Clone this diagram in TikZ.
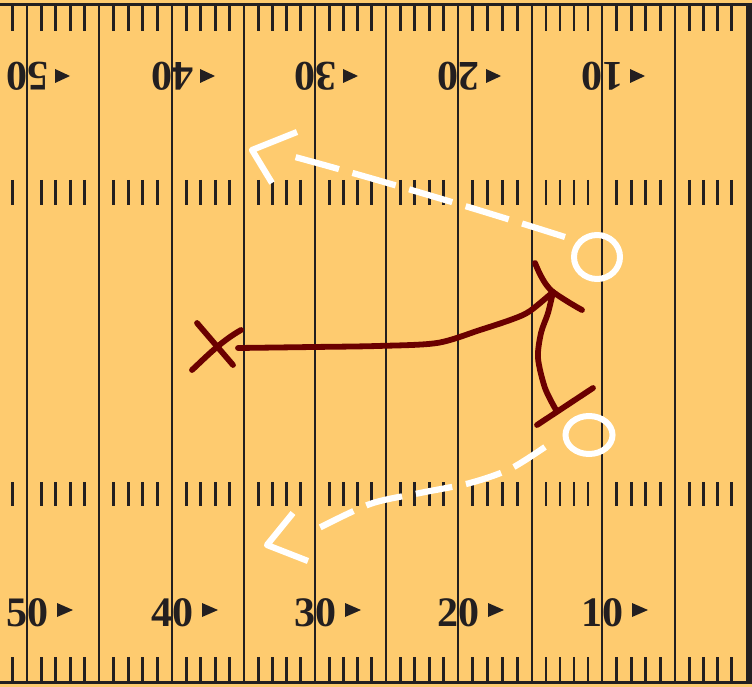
\documentclass[tikz,border=0pt]{standalone}
\usepackage{fontspec}
\setmainfont{Liberation Serif}
\usetikzlibrary{shapes.geometric}
\definecolor{fieldc}{HTML}{FECB6F}
\definecolor{inkc}{HTML}{231F20}
\definecolor{offc}{HTML}{6B0000}
\begin{document}
\begin{tikzpicture}[x=1pt,y=-1pt,
  yardline/.style={draw=inkc,line width=2.8pt},
  hashmark/.style={draw=inkc,line width=2.7pt},
  border/.style={draw=inkc,line width=3pt},
  numlabel/.style={font=\bfseries\fontsize{42}{42}\selectfont,text=inkc,inner sep=0pt,outer sep=0pt},
  dirarrow/.style={fill=inkc},
  defender/.style={draw=white,line width=6pt,ellipse,inner sep=0pt},
  offroute/.style={draw=offc,line width=5.8pt,line cap=round,line join=round},
  defroute/.style={draw=white,line width=6.2pt,line cap=butt},
  defhead/.style={draw=white,line width=6.2pt,line join=round,line cap=butt}
]
\fill[fieldc] (0,0) rectangle (752,687);
\useasboundingbox (0,0) rectangle (752,687);
\clip (0,0) rectangle (752,687);

% hash marks
\foreach \a/\b in {-45/27,27/99,99/172,172/244,244/315,315/386,386/458,458/532,532/602,602/675,675/746}{
  \foreach \k in {1,2,3,4}{
    \pgfmathsetmacro\t{\a+(\b-\a)*\k/5}
    \draw[hashmark] (\t,5) -- (\t,31);
    \draw[hashmark] (\t,180) -- (\t,205);
    \draw[hashmark] (\t,482) -- (\t,506);
    \draw[hashmark] (\t,657) -- (\t,682);
  }
}
% yard lines
\foreach \x in {27,99,172,244,315,386,458,532,602,675}
  \draw[yardline] (\x,5) -- (\x,682);
% borders
\draw[border] (0,5) -- (752,5);
\draw[border] (0,682) -- (752,682);
\draw[draw=inkc,line width=6pt] (749,4) -- (749,683);

% numbers
\foreach \x/\n in {27/50,172/40,315/30,458/20,602/10}{
  \node[numlabel] (b\n) at (\x,613) {\n};
  \fill[dirarrow] (\x+30,603) -- (\x+30,617) -- (\x+46,610) -- cycle;
  \node[numlabel,rotate=180] (t\n) at (\x,76) {\n};
  \fill[dirarrow] (\x+28,69) -- (\x+28,83) -- (\x+43,76) -- cycle;
}

% defenders
\node[defender,minimum width=46pt,minimum height=44pt] (o1) at (597,257) {};
\node[defender,minimum width=47pt,minimum height=38pt] (o2) at (589,435) {};

% defender routes
\coordinate (u0) at (565,237);
\coordinate (u1) at (295,157);
\draw[defroute,dash pattern=on 45pt off 14pt] (u0) .. controls (480,210) and (380,180) .. (u1);
\coordinate (uh1) at (297,132);
\coordinate (uh2) at (252,150);
\coordinate (uh3) at (272,183);
\draw[defhead] (uh1) -- (uh2) -- (uh3);

\coordinate (l0) at (545,447);
\coordinate (l1) at (315,530);
\draw[defroute,dash pattern=on 37pt off 14pt] plot[smooth] coordinates {(l0) (510,469) (470,483) (420,493) (370,504) (l1)};
\coordinate (lh1) at (293,513);
\coordinate (lh2) at (267,545);
\coordinate (lh3) at (308,561);
\draw[defhead] (lh1) -- (lh2) -- (lh3);

% offense player X
\coordinate (xp) at (216,346);
\draw[offroute] ([shift={(-19,-23)}]xp) -- ([shift={(17,19)}]xp);
\draw[offroute] ([shift={(25,-16)}]xp) .. controls ([shift={(4,-4)}]xp) and ([shift={(-11,12)}]xp) .. ([shift={(-24,24)}]xp);

% offense routes
\coordinate (xr) at (238,348);
\coordinate (tip) at (553,292);
\draw[offroute] plot[smooth] coordinates {(xr) (313,347) (377,346) (437,343) (480,330) (513,319) (530,311) (tip)};
\draw[offroute] (535,263) .. controls (542,280) and (547,287) .. (tip) .. controls (563,299) and (573,305) .. (582,310);
\coordinate (lb) at (556,410);
\draw[offroute] plot[smooth] coordinates {(lb) (545,388) (538,358) (541,333) (548,313) (tip)};
\draw[offroute] (537,425) -- (593,388);
\end{tikzpicture}
\end{document}
